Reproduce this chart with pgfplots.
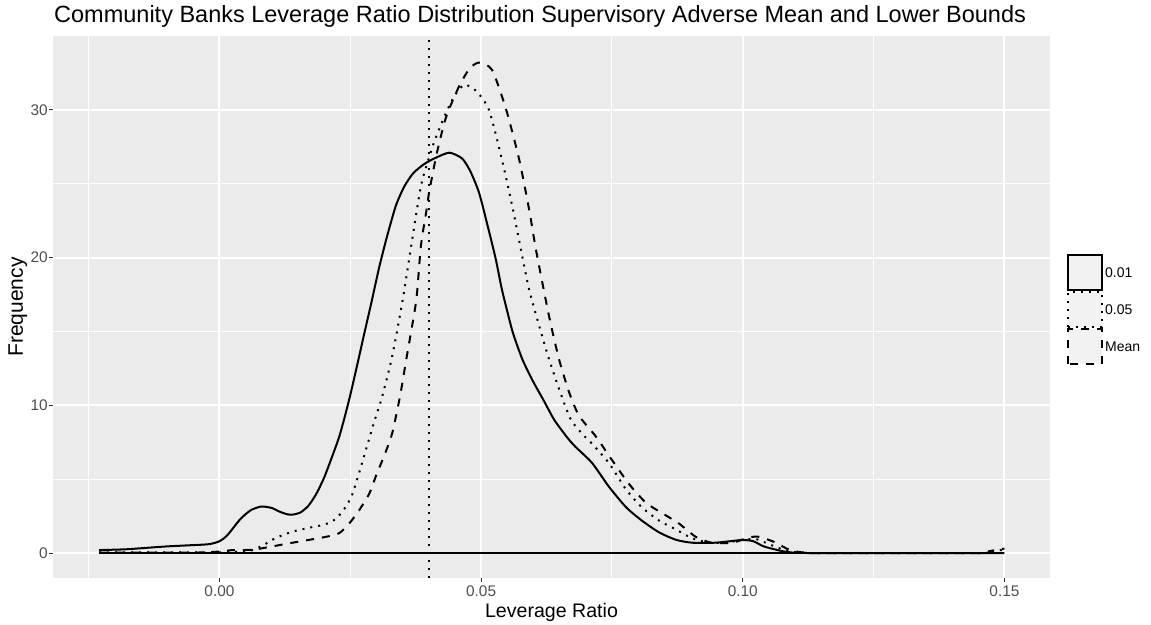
\documentclass[border=0pt]{standalone}
\usepackage{pgfplots}
\pgfplotsset{compat=1.18}
\usepackage{fontspec}
\setmainfont{Liberation Sans}
\definecolor{panel}{HTML}{EBEBEB}
\definecolor{keyfill}{HTML}{F2F2F2}
\definecolor{ticklab}{HTML}{4D4D4D}
\definecolor{tickcol}{HTML}{333333}
\begin{document}
\begin{tikzpicture}
\begin{axis}[
  name=ax, at={(0,0)}, anchor=south west,
  scale only axis, width=997pt, height=542pt,
  xmin=-0.0318, xmax=0.1587, ymin=-1.69, ymax=35.0,
  axis background/.style={fill=panel},
  axis line style={draw=none},
  xtick={0,0.05,0.1,0.15}, xticklabels={0.00,0.05,0.10,0.15},
  ytick={0,10,20,30},
  minor xtick={-0.025,0.025,0.075,0.125}, minor ytick={5,15,25},
  grid=both,
  major grid style={white, line width=2pt},
  minor grid style={white, line width=1pt},
  tick align=outside, major tick length=4pt, minor tick length=0pt,
  tick style={tickcol, line width=1pt},
  tick pos=left,
  /pgf/number format/assume math mode=true,
  ticklabel style={font=\fontsize{15.4}{18}\selectfont, text=ticklab},
  xticklabel style={inner sep=0pt, anchor=north, yshift=-4pt},
  yticklabel style={inner sep=0pt, anchor=east, xshift=-1pt},
  title={Community Banks Leverage Ratio Distribution Supervisory Adverse Mean and Lower Bounds},
  title style={at={(axis description cs:0,1)}, anchor=base west, yshift=7.5pt, xshift=1pt, inner sep=0pt, font=\fontsize{23.5}{28}\selectfont},
  xlabel={Leverage Ratio},
  xlabel style={at={(axis description cs:0.5,0)}, anchor=base, yshift=-39pt, inner sep=0pt, font=\fontsize{19.6}{23}\selectfont},
  ylabel={Frequency},
  ylabel style={at={(axis description cs:-0.0301,0.5)}, anchor=base, inner sep=0pt, font=\fontsize{21}{25}\selectfont},
  legend style={at={(1.017,0.4945)}, anchor=west, draw=none, fill=none, inner sep=0pt, row sep=0pt,
    font=\fontsize{14}{16}\selectfont, /tikz/every even column/.append style={column sep=2pt}},
  legend cell align=left,
  legend image code/.code={\draw[#1, fill=keyfill] (0pt,-17.5pt) rectangle (34pt,17.5pt);},
]
% baseline of the density polygons
\addplot[forget plot, black, line width=2pt] coordinates {(-0.023,0) (0.15,0)};
% 0.01 (solid)
\addplot[black, line width=2pt, smooth, tension=0.4] coordinates {
(-0.023,0.2) (-0.018,0.25) (-0.014,0.35) (-0.01,0.45) (-0.006,0.52) (-0.002,0.6) (0.0,0.8) (0.0015,1.2) (0.004,2.3) (0.006,2.9) (0.008,3.15) (0.010,3.05) (0.0115,2.8) (0.013,2.62) (0.014,2.6) (0.0155,2.75) (0.017,3.2) (0.0185,4.0) (0.020,5.1) (0.0215,6.5) (0.023,8.0) (0.0248,10.4) (0.0265,13.0) (0.0277,14.9) (0.029,16.9) (0.0305,19.3) (0.032,21.4) (0.0337,23.5) (0.0353,24.8) (0.037,25.7) (0.039,26.3) (0.041,26.7) (0.0439,27.1) (0.0464,26.7) (0.048,25.8) (0.0496,24.4) (0.051,22.5) (0.0528,19.9) (0.054,17.8) (0.056,15.0) (0.0579,13.1) (0.0598,11.7) (0.062,10.3) (0.064,9.0) (0.0665,7.8) (0.068,7.2) (0.0712,6.1) (0.0744,4.5) (0.0777,3.1) (0.0807,2.2) (0.084,1.4) (0.0872,0.9) (0.0903,0.7) (0.0948,0.7) (0.0998,0.88) (0.102,0.8) (0.104,0.45) (0.1075,0.13) (0.110,0.02) (0.115,0) (0.15,0)};
\addlegendentry{0.01}
% 0.05 (dotted)
\addplot[black, line width=2pt, line cap=butt, dash pattern=on 2pt off 6pt, smooth, tension=0.4] coordinates {
(-0.023,0.05) (-0.01,0.05) (0.0,0.05) (0.004,0.1) (0.0063,0.2) (0.0085,0.55) (0.0101,0.9) (0.012,1.2) (0.014,1.45) (0.017,1.7) (0.0197,1.9) (0.0216,2.15) (0.0235,2.8) (0.0252,3.8) (0.0265,5.2) (0.028,7.0) (0.0295,8.8) (0.0311,10.6) (0.033,13.3) (0.035,17.1) (0.0363,20.0) (0.0378,23.4) (0.0388,25.3) (0.041,27.8) (0.0433,29.8) (0.045,31.0) (0.0468,31.7) (0.049,31.3) (0.0515,30.0) (0.054,26.6) (0.056,23.4) (0.0578,20.2) (0.0592,17.8) (0.0614,15.0) (0.063,13.1) (0.0652,10.8) (0.0672,9.0) (0.0695,8.0) (0.0712,7.4) (0.0744,6.1) (0.0777,4.3) (0.0807,3.1) (0.084,2.2) (0.0872,1.6) (0.0903,1.0) (0.0935,0.7) (0.0967,0.7) (0.1,0.9) (0.1025,0.95) (0.105,0.6) (0.108,0.2) (0.111,0.02) (0.115,0) (0.145,0) (0.147,0.1) (0.149,0.2) (0.15,0.2)};
\addlegendentry{0.05}
% Mean (dashed)
\addplot[black, line width=2pt, line cap=butt, dash pattern=on 8pt off 8pt, smooth, tension=0.4] coordinates {
(-0.023,0.02) (-0.005,0.03) (0.0,0.1) (0.0025,0.2) (0.0063,0.22) (0.0101,0.45) (0.014,0.7) (0.0204,1.1) (0.0229,1.35) (0.0248,2.0) (0.0267,2.9) (0.0286,4.0) (0.030,5.3) (0.0315,6.6) (0.033,8.1) (0.0345,10.6) (0.0357,13.1) (0.0376,17.1) (0.0385,20.8) (0.0397,23.5) (0.040,24.3) (0.0415,27.0) (0.0433,29.5) (0.0458,31.6) (0.0478,32.8) (0.0496,33.2) (0.0521,32.7) (0.0548,30.0) (0.0573,26.6) (0.0592,23.2) (0.0605,20.5) (0.063,16.0) (0.0649,13.1) (0.0668,10.9) (0.0687,9.3) (0.0719,7.9) (0.075,6.3) (0.0782,4.7) (0.0815,3.4) (0.0846,2.7) (0.0878,2.0) (0.091,1.1) (0.094,0.7) (0.098,0.7) (0.1011,1.05) (0.103,1.1) (0.106,0.75) (0.109,0.2) (0.112,0.02) (0.116,0) (0.145,0) (0.147,0.12) (0.149,0.25) (0.15,0.3)};
\addlegendentry{Mean}
% vertical reference line at 0.04
\addplot[forget plot, black, line width=2pt, line cap=butt, dash pattern=on 2pt off 6pt] coordinates {(0.04,-1.69) (0.04,35.0)};
\end{axis}
\pgfresetboundingbox
\path[use as bounding box] ([shift={(-53pt,-46pt)}]ax.south west) rectangle ++(1151pt,624pt);
\end{tikzpicture}
\end{document}
